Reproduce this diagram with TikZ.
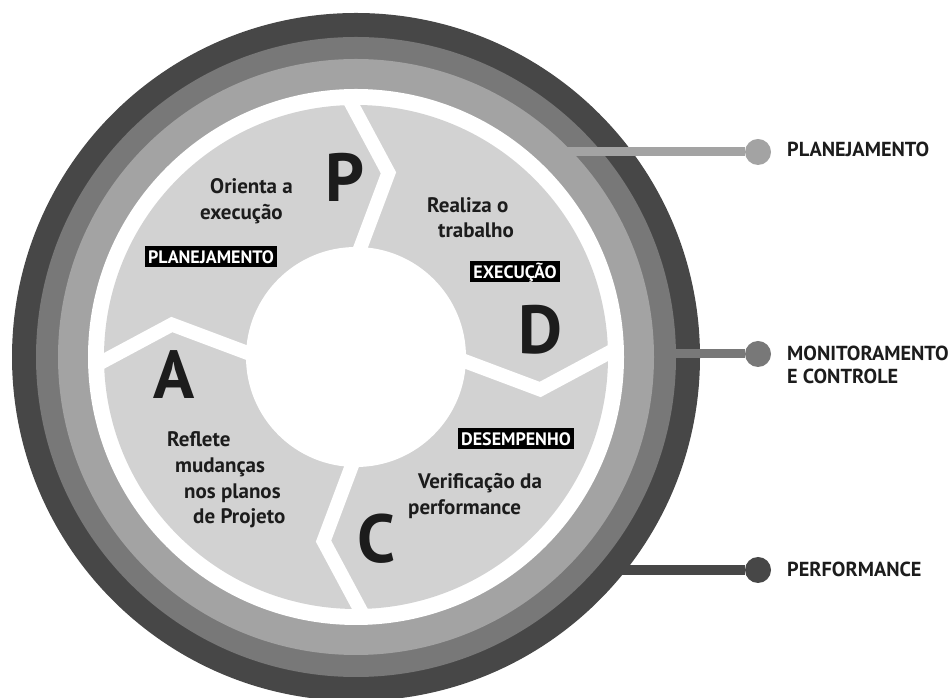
\documentclass[tikz,border=0pt]{standalone}
\usepackage{fontspec}
\setmainfont{PT Sans}
\usetikzlibrary{calc}
\definecolor{ringA}{HTML}{474747}
\definecolor{ringB}{HTML}{787878}
\definecolor{ringC}{HTML}{A3A3A3}
\definecolor{seg}{HTML}{D2D2D2}
\definecolor{ink}{HTML}{1C1C1C}
\begin{document}
\begin{tikzpicture}[x=1pt,y=1pt,
  divider/.style={white, line width=14pt, line join=miter},
  bigletter/.style={anchor=base west, inner sep=0pt, text=ink, font=\bfseries\fontsize{68}{68}\selectfont},
  body/.style={anchor=base west, inner sep=0pt, text=ink, font=\bfseries\fontsize{21}{24}\selectfont},
  badge/.style={fill=black, text=white, font=\bfseries\fontsize{18}{18}\selectfont, inner xsep=3pt, inner ysep=4pt, text height=13pt, text depth=0pt},
  dotnode/.style={circle, inner sep=0pt, minimum size=26pt},
  sidelabel/.style={anchor=base west, inner sep=0pt, text=ink, font=\bfseries\fontsize{20.3}{23}\selectfont}]
\useasboundingbox (0,0) rectangle (950,698);
\coordinate (c) at (356,341);
% rings
\fill[ringA] (c) circle (344pt);
\fill[ringB] (c) circle (320pt);
\fill[ringC] (c) circle (298pt);
\fill[white] (c) circle (268pt);
\fill[seg] (c) circle (252pt);
% dividers
\foreach \t in {90,0,-90,180}
  \draw[divider] ($(c)+(\t-0.5:100pt)$) -- ($(c)+(\t-10:187pt)$) -- ($(c)+(\t+2:262pt)$);
\fill[white] (c) circle (110pt);
% connectors
\node[dotnode, fill=ringC] (d1) at (758,546) {};
\node[dotnode, fill=ringB] (d2) at (758,344) {};
\node[dotnode, fill=ringA] (d3) at (758,128) {};
\coordinate (r1) at (560,546);
\coordinate (r2) at (665,344);
\coordinate (r3) at (615,128);
\draw[ringC, line width=9pt] (r1) -- (d1);
\draw[ringB, line width=9pt] (r2) -- (d2);
\draw[ringA, line width=10pt] (r3) -- (d3);
\node[sidelabel] (l1) at (787,541) {PLANEJAMENTO};
\node[sidelabel] (l2a) at (787,337) {MONITORAMENTO};
\node[sidelabel] (l2b) at (787,314) {E CONTROLE};
\node[sidelabel] (l3) at (787,121) {PERFORMANCE};
% big letters
\node[bigletter] (P) at (325,496) {P};
\node[bigletter] (D) at (518,344) {D};
\node[bigletter] (A) at (153,299) {A};
\node[bigletter] (C) at (357,135) {C};
% body texts
\node[body] (t1a) at (210,504) {Orienta a};
\node[body] (t1b) at (200,478) {execução};
\node[body] (t2a) at (427,485) {Realiza o};
\node[body] (t2b) at (438,460) {trabalho};
\node[body] (t3a) at (418,209) {Verificação da};
\node[body] (t3b) at (408,183) {performance};
\node[body] (t4a) at (167,251) {Reflete};
\node[body] (t4b) at (175,225) {mudanças};
\node[body] (t4c) at (184,199) {nos planos};
\node[body] (t4d) at (193,174) {de Projeto};
% badges
\node[badge] (b1) at (211,441) {PLANEJAMENTO};
\node[badge] (b2) at (515,426) {EXECUÇÃO};
\node[badge] (b3) at (516,259) {DESEMPENHO};
\end{tikzpicture}
\end{document}
